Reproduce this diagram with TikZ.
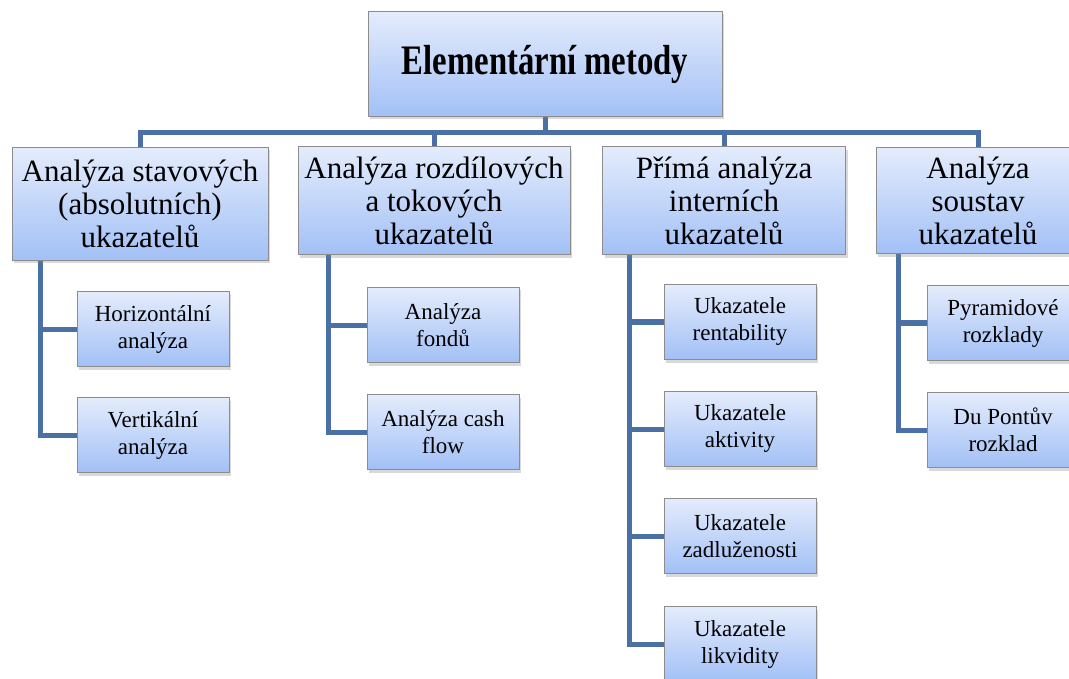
\documentclass[tikz,border=0pt]{standalone}
\usepackage{fontspec}
\setmainfont{LiberationSerif}[Extension=.ttf, UprightFont=*-Regular, BoldFont=*-Bold]
\usetikzlibrary{shadows}

\definecolor{boxtop}{RGB}{228,236,252}
\definecolor{boxbot}{RGB}{162,192,246}
\definecolor{boxline}{RGB}{140,140,140}
\definecolor{linkblue}{RGB}{74,112,166}

\tikzset{every picture/.style={line width=0.75pt}}
\tikzset{
  box/.style={draw=boxline, line width=1pt, top color=boxtop, bottom color=boxbot,
    align=center, inner sep=0pt,
    drop shadow={shadow xshift=2pt, shadow yshift=-3pt, opacity=0.3}},
  headbox/.style={box, minimum width=354, minimum height=105},
  groupbox/.style={box, font=\fontsize{31}{33}\selectfont},
  leafbox/.style={box, minimum width=152, minimum height=75, font=\fontsize{23}{27}\selectfont},
  conn/.style={draw=linkblue, line width=5pt}
}

\begin{document}
\begin{tikzpicture}[x=1pt, y=-1pt]
\useasboundingbox (0,0) rectangle (1069,679);
% connectors first, boxes on top
\coordinate (bus) at (545,133);
\coordinate (aspine) at (40,260);
\coordinate (bspine) at (328,255);
\coordinate (cspine) at (629,255);
\coordinate (dspine) at (898,254);
\node[leafbox] (a1) at (153,329) {Horizontální\\analýza};
\node[leafbox] (a2) at (153,435) {Vertikální\\analýza};
\node[leafbox] (b1) at (443,325) {Analýza\\fondů};
\node[leafbox] (b2) at (443,432) {Analýza cash\\flow};
\node[leafbox] (c1) at (740,322) {Ukazatele\\rentability};
\node[leafbox] (c2) at (740,429) {Ukazatele\\aktivity};
\node[leafbox] (c3) at (740,536) {Ukazatele\\zadluženosti};
\node[leafbox] (c4) at (740,644) {Ukazatele\\likvidity};
\node[leafbox] (d1) at (1003,323) {Pyramidové\\rozklady};
\node[leafbox] (d2) at (1003,430) {Du Pontův\\rozklad};
\draw[conn] (aspine) |- (a1.west);
\draw[conn] (aspine) |- (a2.west);
\draw[conn] (bspine) |- (b1.west);
\draw[conn] (bspine) |- (b2.west);
\draw[conn] (cspine) |- (c1.west);
\draw[conn] (cspine) |- (c2.west);
\draw[conn] (cspine) |- (c3.west);
\draw[conn] (cspine) |- (c4.west);
\draw[conn] (dspine) |- (d1.west);
\draw[conn] (dspine) |- (d2.west);
\draw[conn] (545,110) -- (bus);
\draw[conn] (140,150) |- (bus) -| (978,150);
\draw[conn] (434,150) -- (434,133);
\draw[conn] (724,150) -- (724,133);
% boxes
\node[headbox] (top) at (545,64) {\fontsize{42}{46}\selectfont\bfseries\scalebox{0.78}[1]{Elementární metody}};
\node[groupbox, minimum width=256, minimum height=113] (a) at (140,204) {Analýza stavových\\(absolutních)\\ukazatelů};
\node[groupbox, minimum width=272, minimum height=108] (b) at (434,201) {Analýza rozdílových\\a tokových\\ukazatelů};
\node[groupbox, minimum width=243, minimum height=108] (c) at (724,201) {Přímá analýza\\interních\\ukazatelů};
\node[groupbox, minimum width=204, minimum height=106] (d) at (978,201) {Analýza\\soustav\\ukazatelů};
\end{tikzpicture}
\end{document}
